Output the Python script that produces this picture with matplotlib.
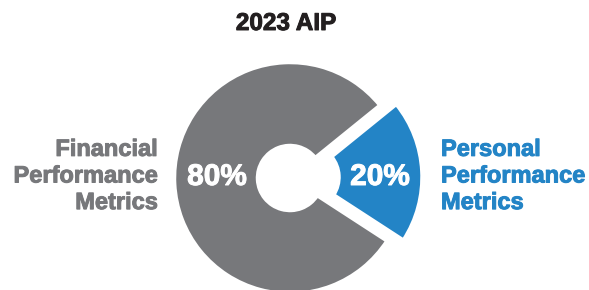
import matplotlib
matplotlib.use("Agg")
import matplotlib.pyplot as plt
import matplotlib.patheffects as pe

# ---- data ----
title = "2023 AIP"
categories = ["Personal\nPerformance\nMetrics", "Financial\nPerformance\nMetrics"]
shares = [20, 80]
pct_labels = ["20%", "80%"]
colors = ["#2384c6", "#77787b"]

plt.rcParams['font.family'] = ['Liberation Sans', 'DejaVu Sans']

W, H = 589, 290
fig = plt.figure(figsize=(W / 100, H / 100), dpi=100)
ax = fig.add_axes([0, 0, 1, 1])

cx, cy = 290, H - 178
R = 115.5
hole = 32.5
explode = [0.143 * R, 0]

ax.pie(shares, colors=colors, startangle=-33, counterclock=True,
       center=(cx, cy), radius=R, explode=explode, frame=True,
       wedgeprops=dict(width=R - hole, edgecolor="white", linewidth=2.5))

ax.set_xlim(0, W)
ax.set_ylim(0, H)
ax.set_aspect("equal")
ax.axis("off")


def bold(c, w=0.7):
    return [pe.withStroke(linewidth=w, foreground=c)]


# percent labels
ax.text(380, H - 177, pct_labels[0], color="white", fontsize=21.5,
        fontweight="bold", ha="center", va="center", path_effects=bold("white"))
ax.text(217, H - 177, pct_labels[1], color="white", fontsize=21.5,
        fontweight="bold", ha="center", va="center", path_effects=bold("white"))

# category labels
ax.text(158, H - 176, categories[1], color=colors[1], fontsize=17,
        fontweight="bold", ha="right", va="center", linespacing=1.2,
        path_effects=bold(colors[1]))
ax.text(441, H - 176, categories[0], color=colors[0], fontsize=17,
        fontweight="bold", ha="left", va="center", linespacing=1.2,
        path_effects=bold(colors[0]))

# title
ax.text(286, H - 23.5, title, color="#231f20", fontsize=17.5,
        fontweight="bold", ha="center", va="center", path_effects=bold("#231f20"))

fig.savefig("out.png", dpi=100)
